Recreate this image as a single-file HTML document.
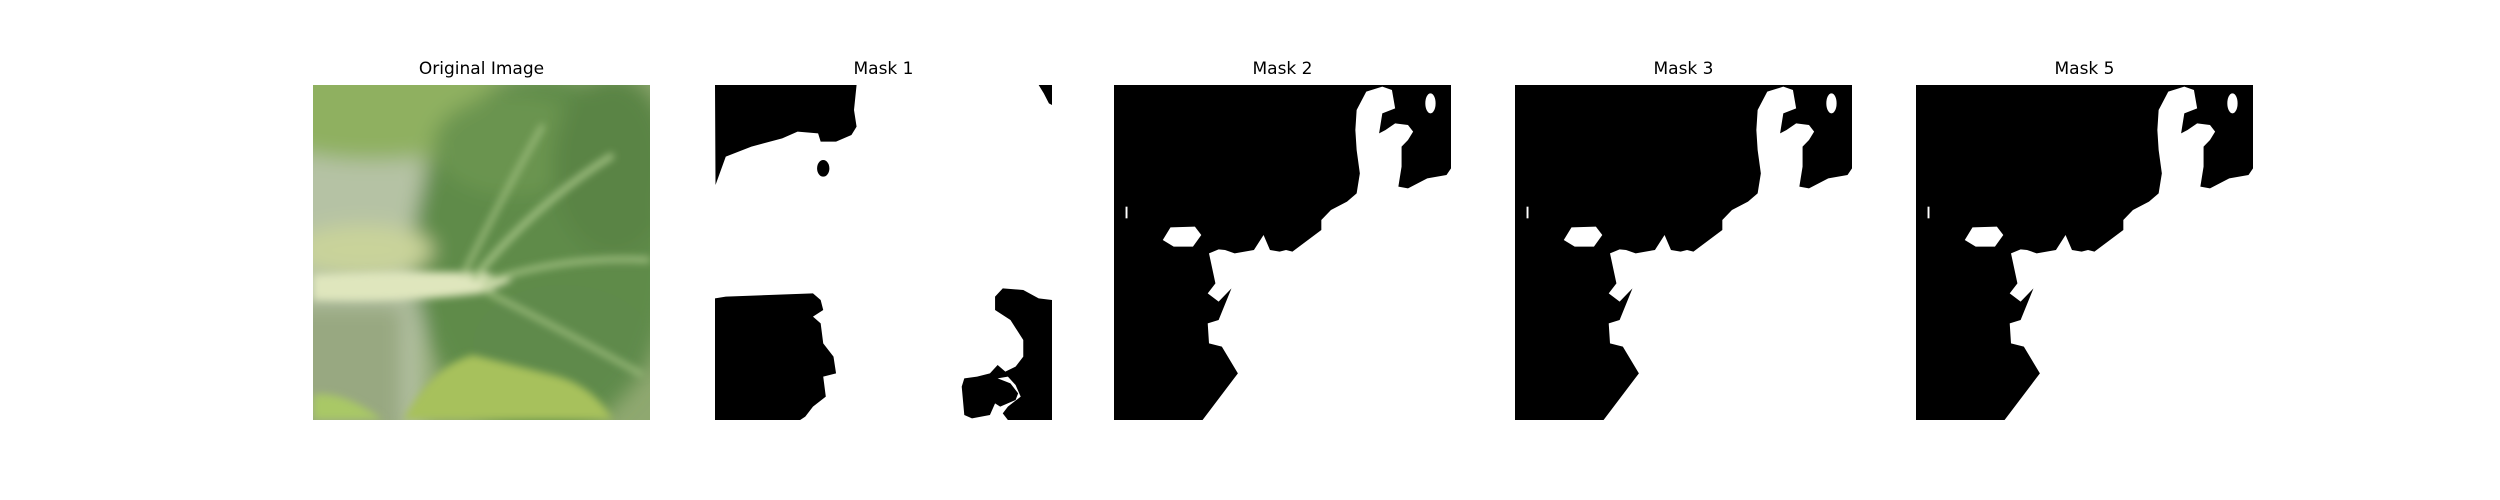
<!DOCTYPE html>
<html><head><meta charset="utf-8"><style>
html,body{margin:0;padding:0;background:#fff;}
body{width:2500px;height:500px;position:relative;overflow:hidden;font-family:"DejaVu Sans","Liberation Sans",sans-serif;}
.title{position:absolute;top:59px;width:337px;text-align:center;font-size:17px;color:#000;}
.panel{position:absolute;top:85px;width:337px;height:335px;}
svg{display:block}
</style></head><body>
<div class="title" style="left:313px">Original Image</div>
<div class="title" style="left:715px">Mask 1</div>
<div class="title" style="left:1114px">Mask 2</div>
<div class="title" style="left:1515px">Mask 3</div>
<div class="title" style="left:1916px">Mask 5</div>

<div class="panel" style="left:313px">
<svg width="337" height="335" viewBox="0 0 337 335">
<defs><filter id="b" x="-20%" y="-20%" width="140%" height="140%"><feGaussianBlur stdDeviation="10"/></filter>
<filter id="b2"><feGaussianBlur stdDeviation="4"/></filter>
<clipPath id="c"><rect width="337" height="335"/></clipPath></defs>
<g clip-path="url(#c)">
<rect width="337" height="335" fill="#8fa870"/>
<g filter="url(#b)">
<rect x="-20" y="60" width="130" height="290" fill="#b5c2a4"/>
<ellipse cx="60" cy="20" rx="140" ry="55" fill="#8fb060"/>
<ellipse cx="230" cy="170" rx="130" ry="180" fill="#5f8b4a"/>
<ellipse cx="200" cy="60" rx="80" ry="50" fill="#6a9450"/>
<ellipse cx="300" cy="80" rx="60" ry="90" fill="#5a8445"/>
<ellipse cx="50" cy="165" rx="70" ry="25" fill="#c9d39a"/>
<ellipse cx="250" cy="260" rx="90" ry="60" fill="#5e8a4c"/>
<rect x="-20" y="220" width="110" height="130" fill="#98a881"/>
</g>
<g filter="url(#b2)">
<path d="M0 190 Q90 185 170 188 L200 195 L170 208 Q90 218 0 215 Z" fill="#dfe6bd"/>
<path d="M160 195 Q220 120 300 70" stroke="#a6c486" stroke-width="6" fill="none"/>
<path d="M150 190 Q190 110 230 40" stroke="#9dbd7d" stroke-width="5" fill="none"/>
<path d="M170 198 Q250 170 337 175" stroke="#a6c486" stroke-width="5" fill="none"/>
<path d="M170 205 Q240 240 330 290" stroke="#9dbd7d" stroke-width="5" fill="none"/>
<path d="M90 335 Q120 280 160 270 Q200 280 240 290 Q280 300 300 335 Z" fill="#a7c15c"/>
<path d="M0 310 Q30 305 70 335 L0 335 Z" fill="#a9c866"/>
</g>
</g>
</svg></div>

<div class="panel" style="left:715px">
<svg width="337" height="335" viewBox="809 105 657 1005" preserveAspectRatio="none">
<rect x="809" y="105" width="657" height="1005" fill="#fff"/>
<g fill="#000">
<polygon points="809,105 1085,105 1080,180 1085,230 1075,255 1045,275 1015,275 1010,250 970,245 940,265 880,290 830,320 810,405"/>
<ellipse cx="1020" cy="355" rx="12" ry="25"/>
<polygon points="1440,105 1466,105 1466,165 1460,160 1450,130"/>
<polygon points="809,745 830,740 1000,730 1015,750 1020,780 1000,800 1015,820 1020,880 1040,920 1045,970 1020,980 1025,1040 1000,1070 985,1100 975,1110 809,1110"/>
<polygon points="1466,750 1440,745 1410,720 1370,715 1355,740 1355,780 1385,810 1410,870 1410,920 1395,950 1375,965 1360,945 1345,970 1320,980 1295,985 1290,1010 1295,1095 1310,1105 1345,1095 1355,1060 1365,1070 1395,1050 1400,1030 1385,1000 1360,985 1380,980 1395,1005 1405,1040 1380,1070 1370,1090 1380,1110 1466,1110"/>
</g></svg></div>

<div class="panel" style="left:1114px">
<svg width="337" height="335" viewBox="22 105 525 1005" preserveAspectRatio="none">
<rect x="22" y="105" width="525" height="1005" fill="#000"/>
<g fill="#fff">
<polygon points="547,355 547,1110 160,1110 215,970 190,890 170,880 168,820 185,810 205,715 185,755 168,730 180,700 170,610 185,598 195,600 210,610 240,600 255,555 265,600 280,605 290,600 300,605 345,540 345,510 360,480 385,455 400,430 405,370 400,300 398,240 400,180 415,125 440,110 455,120 460,175 440,190 435,250 445,240 460,220 480,225 488,245 480,270 470,290 470,350 465,410 480,415 510,385 540,375"/>
<ellipse cx="515" cy="160" rx="8" ry="30"/>
<polygon points="110,532 148,530 158,555 145,590 115,590 98,570"/>
<rect x="40" y="470" width="3" height="35"/>
</g></svg></div>

<div class="panel" style="left:1515px">
<svg width="337" height="335" viewBox="22 105 525 1005" preserveAspectRatio="none">
<rect x="22" y="105" width="525" height="1005" fill="#000"/>
<g fill="#fff">
<polygon points="547,355 547,1110 160,1110 215,970 190,890 170,880 168,820 185,810 205,715 185,755 168,730 180,700 170,610 185,598 195,600 210,610 240,600 255,555 265,600 280,605 290,600 300,605 345,540 345,510 360,480 385,455 400,430 405,370 400,300 398,240 400,180 415,125 440,110 455,120 460,175 440,190 435,250 445,240 460,220 480,225 488,245 480,270 470,290 470,350 465,410 480,415 510,385 540,375"/>
<ellipse cx="515" cy="160" rx="8" ry="30"/>
<polygon points="110,532 148,530 158,555 145,590 115,590 98,570"/>
<rect x="40" y="470" width="3" height="35"/>
</g></svg></div>

<div class="panel" style="left:1916px">
<svg width="337" height="335" viewBox="22 105 525 1005" preserveAspectRatio="none">
<rect x="22" y="105" width="525" height="1005" fill="#000"/>
<g fill="#fff">
<polygon points="547,355 547,1110 160,1110 215,970 190,890 170,880 168,820 185,810 205,715 185,755 168,730 180,700 170,610 185,598 195,600 210,610 240,600 255,555 265,600 280,605 290,600 300,605 345,540 345,510 360,480 385,455 400,430 405,370 400,300 398,240 400,180 415,125 440,110 455,120 460,175 440,190 435,250 445,240 460,220 480,225 488,245 480,270 470,290 470,350 465,410 480,415 510,385 540,375"/>
<ellipse cx="515" cy="160" rx="8" ry="30"/>
<polygon points="110,532 148,530 158,555 145,590 115,590 98,570"/>
<rect x="40" y="470" width="3" height="35"/>
</g></svg></div>
</body></html>
